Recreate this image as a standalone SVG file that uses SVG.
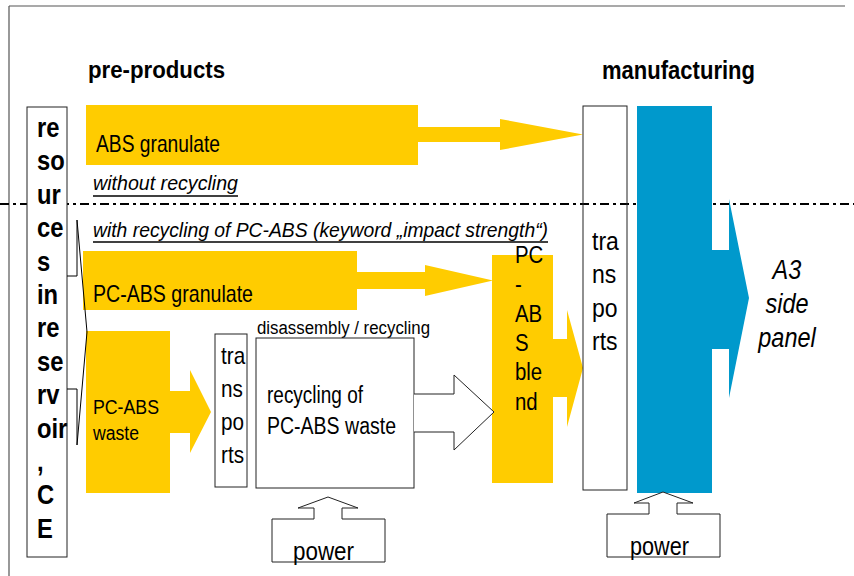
<svg xmlns="http://www.w3.org/2000/svg" width="854" height="576" viewBox="0 0 854 576">
<style>
text{font-family:"Liberation Sans",Arial,sans-serif;fill:#000}
.b{font-weight:bold}
.i{font-style:italic}
.y{fill:#FFCC00}
.bl{fill:#0099CC}
.o{fill:#fff;stroke:#222;stroke-width:1}
.on{fill:none;stroke:#222;stroke-width:1}
.ln{fill:none;stroke:#000;stroke-width:1}
</style>
<rect width="854" height="576" fill="#fff"/>
<g id="frame">
<path d="M9,6 H845 M9,6 V576" fill="none" stroke="#555" stroke-width="1.2"/>
<line x1="0" y1="204" x2="854" y2="204" stroke="#000" stroke-width="1.8" stroke-dasharray="9 4 3 4"/>
</g>
<g id="headings">
<text class="b" x="88" y="78" font-size="23" textLength="137" lengthAdjust="spacingAndGlyphs">pre-products</text>
<text class="b" x="602" y="79" font-size="25" textLength="153" lengthAdjust="spacingAndGlyphs">manufacturing</text>
</g>
<g id="scenario-labels">
<text class="i" x="93" y="190" font-size="20" textLength="145" lengthAdjust="spacingAndGlyphs">without recycling</text>
<line x1="93" y1="196" x2="238" y2="196" stroke="#000" stroke-width="1.5"/>
<text class="i" x="93" y="237" font-size="21" textLength="455" lengthAdjust="spacingAndGlyphs">with recycling of PC-ABS (keyword „impact strength“)</text>
<line x1="93" y1="242" x2="548" y2="242" stroke="#000" stroke-width="1.5"/>
</g>
<g id="resources">
<rect class="o" x="27" y="107" width="40" height="450"/>
<g transform="translate(37,0) scale(0.88,1)" class="b" font-size="27">
<text class="b" x="0" y="137">re</text>
<text class="b" x="0" y="170.4">so</text>
<text class="b" x="0" y="203.8">ur</text>
<text class="b" x="0" y="237.2">ce</text>
<text class="b" x="0" y="270.6">s</text>
<text class="b" x="0" y="304">in</text>
<text class="b" x="0" y="337.4">re</text>
<text class="b" x="0" y="370.8">se</text>
<text class="b" x="0" y="404.2">rv</text>
<text class="b" x="0" y="437.6">oir</text>
<text class="b" x="0" y="471">,</text>
<text class="b" x="0" y="504.4">C</text>
<text class="b" x="0" y="537.8">E</text>
</g>
</g>
<g id="abs-granulate">
<path class="y" d="M86,105 H418 V127 H500 V119 L583,134.5 L500,150 V142 H418 V165 H86 Z"/>
<text x="96" y="152" font-size="24" textLength="124" lengthAdjust="spacingAndGlyphs">ABS granulate</text>
</g>
<g id="pcabs-granulate">
<path class="y" d="M83,251 H357 V272 H425 V265 L493,280.5 L425,296 V289 H357 V310 H83 Z"/>
<text x="93" y="302" font-size="24" textLength="160" lengthAdjust="spacingAndGlyphs">PC-ABS granulate</text>
</g>
<g id="pcabs-waste">
<path class="y" d="M86,331 H170 V391 H190 V370 L211,412 L190,453 V433 H170 V493 H86 Z"/>
<text x="93" y="414" font-size="20" textLength="66" lengthAdjust="spacingAndGlyphs">PC-ABS</text>
<text x="93" y="440" font-size="20" textLength="46" lengthAdjust="spacingAndGlyphs">waste</text>
</g>
<g id="transports-left">
<rect class="o" x="215" y="334" width="32" height="153"/>
<g transform="translate(221,0) scale(0.9,1)" font-size="23">
<text x="0" y="364">tra</text>
<text x="0" y="397">ns</text>
<text x="0" y="430">po</text>
<text x="0" y="463">rts</text>
</g>
</g>
<g id="recycling">
<text x="257" y="334" font-size="18" textLength="173" lengthAdjust="spacingAndGlyphs">disassembly / recycling</text>
<rect class="o" x="256" y="338" width="158" height="150"/>
<text x="267" y="403" font-size="23" textLength="96" lengthAdjust="spacingAndGlyphs">recycling of</text>
<text x="267" y="434" font-size="23" textLength="129" lengthAdjust="spacingAndGlyphs">PC-ABS waste</text>
</g>
<g id="power-1">
<path class="o" d="M272,519 H314 V508 H298 L328,497 L358,508 H342 V519 H385 V562 H272 Z"/>
<text x="293" y="560" font-size="26" textLength="61" lengthAdjust="spacingAndGlyphs">power</text>
</g>
<g id="pcabs-blend">
<path class="y" d="M492,255 H553 V339 H567 V310 L583,368 L567,427 V397 H553 V483 H492 Z"/>
<g transform="translate(515,0) scale(0.85,1)" font-size="24">
<text x="0" y="263">PC</text>
<text x="0" y="292.5">-</text>
<text x="0" y="322">AB</text>
<text x="0" y="351">S</text>
<text x="0" y="380">ble</text>
<text x="0" y="410">nd</text>
</g>
</g>
<g id="manufacturing">
<path class="bl" d="M637,106 H712 V250 H729 V199 L749,298 L729,398 V349 H712 V493 H637 Z"/>
</g>
<g id="transports-right">
<rect class="on" x="583" y="106" width="44" height="384"/>
<g transform="translate(592,0) scale(0.92,1)" font-size="25">
<text x="0" y="250">tra</text>
<text x="0" y="283.3">ns</text>
<text x="0" y="316.6">po</text>
<text x="0" y="350">rts</text>
</g>
</g>
<g id="power-2">
<path class="o" d="M607,514 H649 V503 H634 L663,492 L693,503 H677 V514 H720 V557 H607 Z"/>
<text x="630" y="555" font-size="26" textLength="59" lengthAdjust="spacingAndGlyphs">power</text>
</g>
<g id="product">
<g transform="translate(787,0) scale(0.84,1)" font-size="28" text-anchor="middle">
<text class="i" x="0" y="279">A3</text>
<text class="i" x="0" y="313">side</text>
<text class="i" x="0" y="347">panel</text>
</g>
</g>
<g id="connectors">
<path class="o" d="M414,394 H454 V375 L494,412 L454,450 V432 H414"/>
<path class="ln" d="M77,220 V276 H67 M67,389 H77 V445 M77,220 L87,332 L77,445"/>
</g>
</svg>
